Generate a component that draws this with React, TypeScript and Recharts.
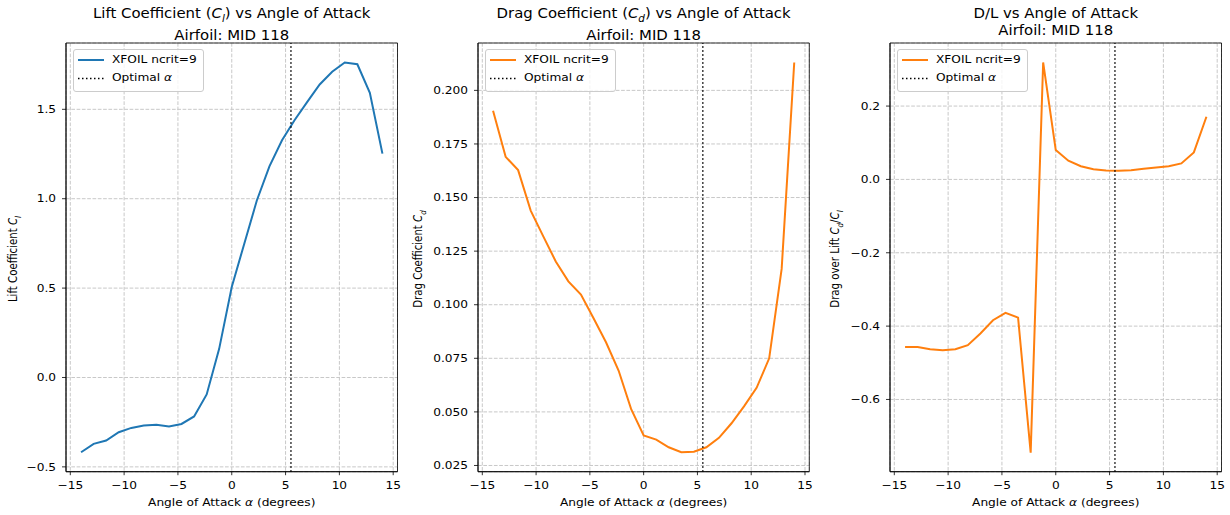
import React from 'react';
import { LineChart, Line, XAxis, YAxis, CartesianGrid, ReferenceLine, ReferenceArea, Legend } from 'recharts';

// angle of attack, degrees (25 points)
const alphas = [-14, -12.83, -11.67, -10.5, -9.33, -8.17, -7, -5.83, -4.67, -3.5, -2.33, -1.17, 0, 1.17, 2.33, 3.5, 4.67, 5.83, 7, 8.17, 9.33, 10.5, 11.67, 12.83, 14];
const liftValues = [-0.418, -0.371, -0.353, -0.306, -0.282, -0.269, -0.265, -0.274, -0.26, -0.218, -0.095, 0.16, 0.506, 0.75, 0.99, 1.181, 1.327, 1.439, 1.54, 1.639, 1.71, 1.762, 1.752, 1.592, 1.252];
const dragValues = [0.1905, 0.169, 0.1628, 0.1439, 0.1319, 0.1202, 0.1109, 0.1047, 0.0938, 0.0825, 0.0693, 0.0514, 0.039, 0.0371, 0.0335, 0.0312, 0.0314, 0.0335, 0.0379, 0.0447, 0.0526, 0.0612, 0.075, 0.1167, 0.213];
const dlValues = [-0.457, -0.457, -0.463, -0.466, -0.463, -0.452, -0.42, -0.384, -0.364, -0.377, -0.745, 0.319, 0.08, 0.051, 0.036, 0.028, 0.0245, 0.0236, 0.025, 0.029, 0.0327, 0.036, 0.0436, 0.0736, 0.171];
const optimalAlpha = 5.5;

const xTicks = [-15, -10, -5, 0, 5, 10, 15];
const liftTicks = [-0.5, 0, 0.5, 1, 1.5];
const dragTicks = [0.025, 0.05, 0.075, 0.1, 0.125, 0.15, 0.175, 0.2];
const dlTicks = [-0.6, -0.4, -0.2, 0, 0.2];

const FONT = '"DejaVu Sans", sans-serif';
const X_DOMAIN: [number, number] = [-15.4, 15.4];
// the picture is stretched horizontally, so text gets a little wider than tall
const SX = 1.16;
const FS = 10.5;

const minus = (s: string) => s.replace('-', '\u2212');

const XTick = (props: any) => {
  const { x, y, payload } = props;
  return (
    <text transform={`translate(${x},${y}) scale(${SX},1)`} textAnchor="middle" dy="0.71em" fontSize={FS} fontFamily={FONT} fill="#000">
      {minus(String(payload.value))}
    </text>
  );
};

const makeYTick = (digits: number) => (props: any) => {
  const { x, y, payload } = props;
  return (
    <text transform={`translate(${x},${y}) scale(${SX},1)`} textAnchor="end" dy="0.355em" fontSize={FS} fontFamily={FONT} fill="#000">
      {minus(Number(payload.value).toFixed(digits))}
    </text>
  );
};

const LegendBox = ({ color }: { color: string }) => (
  <div style={{ position: 'relative', width: 129, height: 41, border: '1px solid #cccccc', borderRadius: 3, background: 'rgba(255,255,255,0.8)', fontFamily: FONT, fontSize: FS, color: '#000' }}>
    <svg width={40} height={41} style={{ position: 'absolute', left: 0, top: 0 }}>
      <line x1={4} x2={30} y1={10} y2={10} stroke={color} strokeWidth={2} />
      <line x1={4} x2={30} y1={28.5} y2={28.5} stroke="#000" strokeWidth={1.5} strokeDasharray="1.5 2.5" />
    </svg>
    <div style={{ position: 'absolute', left: 38, top: 3, whiteSpace: 'nowrap', transform: `scaleX(${SX})`, transformOrigin: 'left center' }}>XFOIL ncrit=9</div>
    <div style={{ position: 'absolute', left: 38, top: 21, whiteSpace: 'nowrap', transform: `scaleX(${SX})`, transformOrigin: 'left center' }}>Optimal <i>α</i></div>
  </div>
);

type PanelProps = {
  left: number;
  plotLeft: number;
  plotRight: number;
  values: number[];
  color: string;
  yDomain: [number, number];
  yTicks: number[];
  digits: number;
  title: React.ReactNode;
  yLabel: React.ReactNode;
  yLabelX: number;
};

const W = 410;
const H = 515;
const TOP = 43;
const BOTTOM = 471.7;
const Y_W = 45;
const X_H = 30;

const Panel = (p: PanelProps) => {
  const data = alphas.map((a, i) => ({ alpha: a, v: p.values[i] }));
  const plotW = p.plotRight - p.plotLeft;
  const YTick = makeYTick(p.digits);
  return (
    <div style={{ position: 'absolute', left: p.left, top: 0, width: W, height: H }}>
      <div style={{ position: 'absolute', left: p.plotLeft, width: plotW, top: 4.7, textAlign: 'center', fontFamily: FONT, fontSize: 13.8, lineHeight: '17.7px', whiteSpace: 'nowrap', transform: 'scaleX(1.08)', transformOrigin: 'center' }}>
        {p.title}
        <br />
        Airfoil: MID 118
      </div>
      <LineChart
        width={W}
        height={H}
        data={data}
        margin={{ top: TOP, bottom: H - BOTTOM - X_H, left: p.plotLeft - Y_W, right: W - p.plotRight }}
      >
        <CartesianGrid stroke="#c8c8c8" strokeDasharray="3.7 1.6" />
        <XAxis
          dataKey="alpha"
          type="number"
          domain={X_DOMAIN}
          ticks={xTicks}
          allowDataOverflow
          height={X_H}
          tickSize={3.5}
          tickMargin={6}
          interval={0}
          tick={<XTick />}
          tickLine={{ stroke: '#000', strokeWidth: 0.8 }}
          axisLine={{ stroke: '#000', strokeWidth: 0.8 }}
        />
        <YAxis
          type="number"
          domain={p.yDomain}
          ticks={p.yTicks}
          allowDataOverflow
          width={Y_W}
          tickSize={4}
          tickMargin={6}
          interval={0}
          tick={<YTick />}
          tickLine={{ stroke: '#000', strokeWidth: 0.8 }}
          axisLine={{ stroke: '#000', strokeWidth: 0.8 }}
        />
        <Line dataKey="v" stroke={p.color} strokeWidth={2} dot={false} isAnimationActive={false} type="linear" />
        <ReferenceLine x={optimalAlpha} stroke="#000" strokeWidth={1.5} strokeDasharray="1.5 2.5" />
        <ReferenceArea x1={X_DOMAIN[0]} x2={X_DOMAIN[1]} y1={p.yDomain[0]} y2={p.yDomain[1]} fill="none" fillOpacity={0} stroke="#000" strokeWidth={0.8} />
        <Legend
          layout="vertical"
          align="center"
          verticalAlign="middle"
          wrapperStyle={{ left: p.plotLeft + 6.5, top: 49, width: 131, height: 43 }}
          content={() => <LegendBox color={p.color} />}
        />
      </LineChart>
      <div style={{ position: 'absolute', left: p.plotLeft, width: plotW, top: 495.5, textAlign: 'center', fontFamily: FONT, fontSize: FS, lineHeight: '13px', whiteSpace: 'nowrap', transform: `scaleX(${SX})`, transformOrigin: 'center' }}>
        Angle of Attack <i>α</i> (degrees)
      </div>
      <div style={{ position: 'absolute', left: p.yLabelX - 150, top: (TOP + BOTTOM) / 2 - 7, width: 300, textAlign: 'center', transform: `scaleX(${SX}) rotate(-90deg)`, fontFamily: FONT, fontSize: 10.2, lineHeight: '14px', whiteSpace: 'nowrap' }}>
        {p.yLabel}
      </div>
    </div>
  );
};

const Sub = ({ c, s }: { c: string; s: string }) => (
  <span>
    <i>{c}</i>
    <sub style={{ fontSize: '0.7em', fontStyle: 'italic' }}>{s}</sub>
  </span>
);

export default function App() {
  return (
    <div style={{ position: 'absolute', left: 0, top: 0, width: 1230, height: 515, background: '#fff' }}>
      <Panel
        left={0}
        plotLeft={66}
        plotRight={397.5}
        values={liftValues}
        color="#1f77b4"
        yDomain={[-0.527, 1.871]}
        yTicks={liftTicks}
        digits={1}
        title={<>Lift Coefficient (<Sub c="C" s="l" />) vs Angle of Attack</>}
        yLabel={<>Lift Coefficient <Sub c="C" s="l" /></>}
        yLabelX={16}
      />
      <Panel
        left={410}
        plotLeft={68}
        plotRight={399.3}
        values={dragValues}
        color="#ff7f0e"
        yDomain={[0.0221, 0.2221]}
        yTicks={dragTicks}
        digits={3}
        title={<>Drag Coefficient (<Sub c="C" s="d" />) vs Angle of Attack</>}
        yLabel={<>Drag Coefficient <Sub c="C" s="d" /></>}
        yLabelX={11}
      />
      <Panel
        left={820}
        plotLeft={70}
        plotRight={401.5}
        values={dlValues}
        color="#ff7f0e"
        yDomain={[-0.797, 0.372]}
        yTicks={dlTicks}
        digits={1}
        title={<>D/L vs Angle of Attack</>}
        yLabel={<>Drag over Lift <Sub c="C" s="d" />/<Sub c="C" s="l" /></>}
        yLabelX={18}
      />
    </div>
  );
}
